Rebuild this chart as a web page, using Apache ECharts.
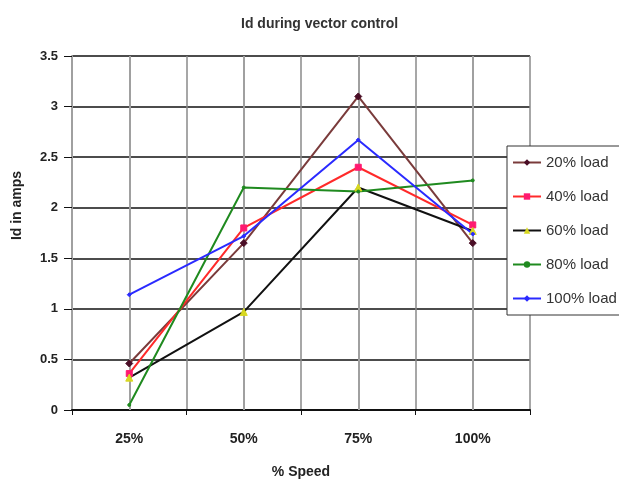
<!DOCTYPE html>
<html>
<head>
<meta charset="utf-8">
<script src="https://cdn.jsdelivr.net/npm/echarts@6/dist/echarts.min.js"></script>
<style>
html,body{margin:0;padding:0;background:#fff;}
#chart{width:619px;height:484px;}
</style>
</head>
<body>
<div id="chart"></div>
<script>
var categories = ['25%', '50%', '75%', '100%'];
var seriesNames = ['20% load', '40% load', '60% load', '80% load', '100% load'];
var load20 = [0.46, 1.65, 3.1, 1.65];
var load40 = [0.36, 1.8, 2.4, 1.83];
var load60 = [0.32, 0.97, 2.2, 1.77];
var load80 = [0.05, 2.2, 2.16, 2.27];
var load100 = [1.14, 1.72, 2.67, 1.74];
var yTicks = [0, 0.5, 1, 1.5, 2, 2.5, 3, 3.5];

var FONT = '"Liberation Sans", Arial, sans-serif';
var chart = echarts.init(document.getElementById('chart'), null, {renderer: 'canvas'});

function mk(name, data, lineColor, symbol, symColor, symSize) {
  return {
    name: name, type: 'line', data: data,
    symbol: symbol, symbolSize: symSize,
    lineStyle: {color: lineColor, width: 2},
    itemStyle: {color: symColor, borderColor: symColor},
    color: lineColor,
    z: 5
  };
}

var series = [
  mk(seriesNames[0], load20, '#7a3b3b', 'diamond', '#4a0d26', 7),
  mk(seriesNames[1], load40, '#ff2a2a', 'rect', '#ff1a70', 6),
  mk(seriesNames[2], load60, '#111111', 'triangle', '#d8d820', 7),
  mk(seriesNames[3], load80, '#1f8a1f', 'circle', '#1f8a1f', 3),
  mk(seriesNames[4], load100, '#2a2aff', 'diamond', '#2a2aff', 4)
];
// center vertical gridlines (gray)
series[0].markLine = {
  silent: true, symbol: 'none', label: {show: false},
  lineStyle: {color: '#a0a0a0', width: 2, type: 'solid'},
  data: categories.map(function (c) { return {xAxis: c}; }),
  z: 1
};

chart.setOption({
  animation: false,
  backgroundColor: '#ffffff',
  title: {
    text: 'Id during vector control',
    left: 236, top: 12,
    textStyle: {fontFamily: FONT, fontSize: 14, fontWeight: 'bold', color: '#333'}
  },
  legend: {
    orient: 'vertical',
    left: 507, top: 146,
    padding: [9, 6, 9, 5],
    itemGap: 19,
    itemWidth: 28, itemHeight: 8,
    backgroundColor: '#fff',
    borderColor: '#333', borderWidth: 1,
    borderRadius: 0,
    data: seriesNames,
    textStyle: {fontFamily: FONT, fontSize: 15, color: '#333'}
  },
  grid: {left: 72, right: 89, top: 56, bottom: 74, containLabel: false},
  xAxis: {
    type: 'category', data: categories, boundaryGap: true,
    name: '% Speed', nameLocation: 'middle', nameGap: 55,
    nameTextStyle: {fontFamily: FONT, fontSize: 14, fontWeight: 'bold', color: '#222'},
    axisLine: {show: true, lineStyle: {color: '#111', width: 2}},
    axisTick: {show: true, length: 5, lineStyle: {color: '#111'}},
    axisLabel: {margin: 22, fontFamily: FONT, fontSize: 14, fontWeight: 'bold', color: '#222'},
    splitLine: {show: true, lineStyle: {color: '#8a8a8a', width: 1.5}}
  },
  yAxis: {
    type: 'value', min: 0, max: 3.5, interval: 0.5,
    name: 'Id in amps', nameLocation: 'middle', nameGap: 48,
    nameTextStyle: {fontFamily: FONT, fontSize: 14, fontWeight: 'bold', color: '#222', padding: [0, 0, 0, 55]},
    axisLine: {show: true, lineStyle: {color: '#a0a0a0', width: 2}},
    axisTick: {show: true, length: 8, inside: false, lineStyle: {color: '#111'}},
    axisLabel: {margin: 14, fontFamily: FONT, fontSize: 13, fontWeight: 'bold', color: '#222',
      formatter: function (v) { return yTicks.indexOf(v) >= 0 ? String(v) : ''; }},
    splitLine: {show: true, lineStyle: {color: '#111', width: 1.5}}
  },
  series: series
});
</script>
</body>
</html>
